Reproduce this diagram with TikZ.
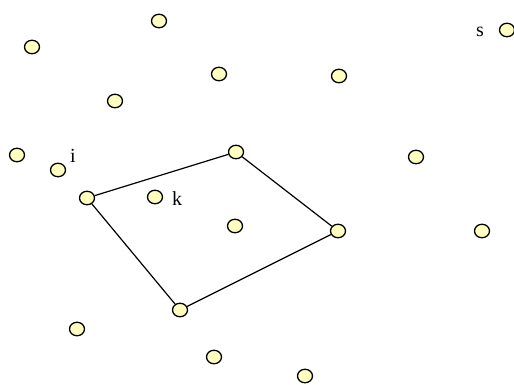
\documentclass[tikz,border=0pt]{standalone}
\usepackage{fontspec}
\setmainfont{Liberation Serif}
\usetikzlibrary{shapes.geometric}
\definecolor{pointfill}{HTML}{FFFFC0}

\begin{document}
\begin{tikzpicture}[x=1pt, y=-1pt,
    pt/.style={ellipse, draw=black, fill=pointfill, line width=1.3pt, minimum width=15pt, minimum height=13.5pt, inner sep=0pt},
    lbl/.style={inner sep=0pt, font=\fontsize{20}{24}\selectfont},
    hull/.style={draw=black, line width=1.2pt}]
        \useasboundingbox (0,0) rectangle (514,385);
        % scattered points
        \node[pt] (p1) at (159,21) {};
        \node[pt] (p2) at (32,47) {};
        \node[pt] (p3) at (219,74) {};
        \node[pt] (p4) at (339,76) {};
        \node[pt] (p5) at (115,101) {};
        \node[pt] (p6) at (17,155) {};
        \node[pt] (pi) at (58,170) {};
        \node[pt] (p9) at (416,157) {};
        \node[pt] (pk) at (155,197) {};
        \node[pt] (p12) at (235,226) {};
        \node[pt] (p14) at (482,231) {};
        \node[pt] (p16) at (77,329) {};
        \node[pt] (p17) at (214,357) {};
        \node[pt] (p18) at (305,376) {};
        \node[pt] (ps) at (507,30) {};
        % hull corners
        \node[pt] (h1) at (87,198) {};
        \node[pt] (h2) at (236,152) {};
        \node[pt] (h3) at (338,231) {};
        \node[pt] (h4) at (180,310) {};
        % labels
        \node[lbl] (li) at (73,156) {i};
        \node[lbl] (lk) at (177,199) {k};
        \node[lbl] (ls) at (480,32) {s};
        % hull
        \draw[hull] (h1) -- (h2) -- (h3) -- (h4) -- (h1);
    \end{tikzpicture}
\end{document}
